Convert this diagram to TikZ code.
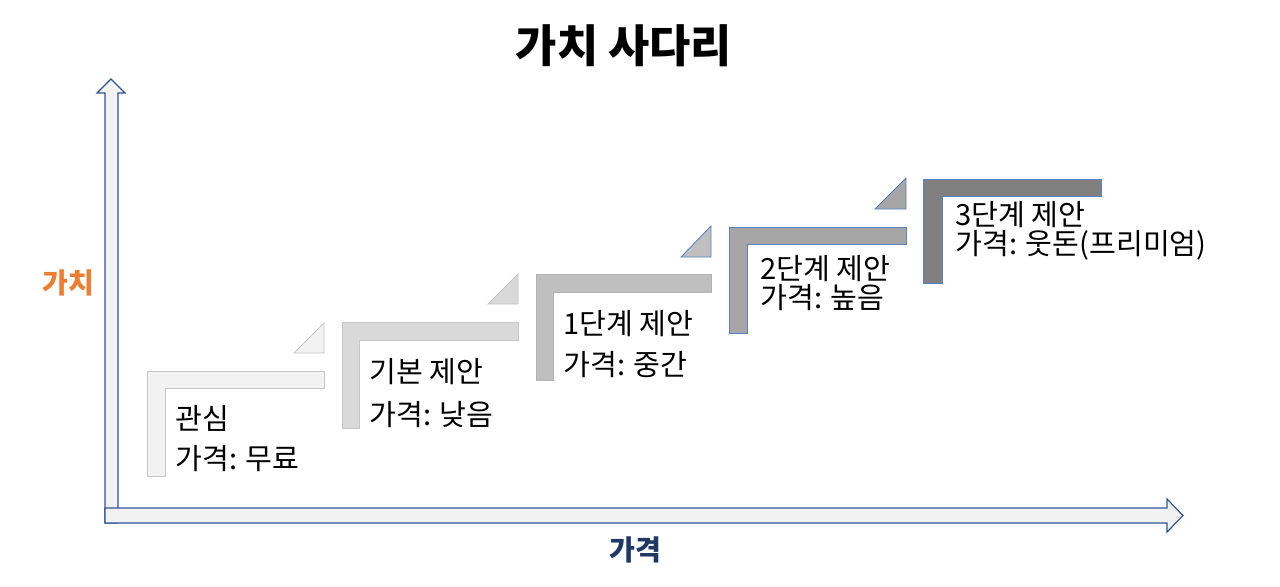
\documentclass[tikz,border=0pt]{standalone}
\usepackage{fontspec}
\setmainfont{Noto Sans CJK KR}
\usepackage{xcolor}
\usepackage{tikz}
\usetikzlibrary{positioning,calc}
\definecolor{axisblue}{HTML}{2F5597}
\definecolor{axisfill}{HTML}{F2F2F2}
\definecolor{edgeblue}{HTML}{5B7FC7}
\definecolor{valorange}{HTML}{ED7D31}
\definecolor{pricenavy}{HTML}{1F3864}
\tikzset{
  axisarrow/.style={draw=axisblue,fill=axisfill,line width=0.7pt,line join=miter},
  stepone/.style={draw=gray!45,fill=black!5,line width=0.5pt},
  steptwo/.style={draw=gray!45,fill=black!15,line width=0.5pt},
  stepthree/.style={draw=black!30,fill=black!25,line width=0.5pt},
  stepfour/.style={draw=edgeblue,fill=black!35,line width=0.5pt},
  stepfive/.style={draw=edgeblue,fill=black!50,line width=0.5pt},
  steptext/.style={anchor=west,inner sep=0pt,font=\fontsize{16.6}{19}\selectfont},
  axislab/.style={inner sep=0pt,font=\bfseries\fontsize{16}{19}\selectfont}
}

\begin{document}
\begin{tikzpicture}[x=0.02cm,y=-0.02cm]
  \useasboundingbox (0,0) rectangle (1280,586);
  % title
  \node[inner sep=0pt,font=\bfseries\fontsize{25.5}{30}\selectfont] (title) at (624,46) {가치 사다리};
  % axes
  \draw[axisarrow] (105,523) -- (105,93) -- (97,93) -- (111,79) -- (125,93) -- (118,93) -- (118,523) -- cycle;
  \draw[axisarrow] (105,508) -- (1167,508) -- (1167,499) -- (1183,515.5) -- (1167,532) -- (1167,523) -- (105,523) -- cycle;
  \node[axislab,text=valorange] (vlab) at (68,283) {가치};
  \node[axislab,text=pricenavy] (plab) at (635,550) {가격};
  % steps of the ladder
  \draw[stepone] (147,371) -- (324,371) -- (324,388) -- (165,388) -- (165,476) -- (147,476) -- cycle;
  \draw[stepone] (294,353) -- (324,353) -- (324,323) -- cycle;
  \draw[steptwo] (342,322) -- (518,322) -- (518,340) -- (359,340) -- (359,428) -- (342,428) -- cycle;
  \draw[steptwo] (488,304) -- (518,304) -- (518,274) -- cycle;
  \draw[stepthree] (536,274) -- (711,274) -- (711,292) -- (553,292) -- (553,380) -- (536,380) -- cycle;
  \draw[stepthree,draw=edgeblue] (681,257) -- (711,257) -- (711,226) -- cycle;
  \draw[stepfour] (729,227) -- (906,227) -- (906,244) -- (747,244) -- (747,333) -- (729,333) -- cycle;
  \draw[stepfour] (875,209) -- (906,209) -- (906,178) -- cycle;
  \draw[stepfive] (923,179) -- (1101,179) -- (1101,196) -- (942,196) -- (942,283) -- (923,283) -- cycle;
  % labels
  \node[steptext] (s1name) at (175,418) {관심};
  \node[steptext] (s1price) at (175,459) {가격: 무료};
  \node[steptext] (s2name) at (369,372) {기본 제안};
  \node[steptext] (s2price) at (369,415) {가격: 낮음};
  \node[steptext] (s3name) at (563,324) {1단계 제안};
  \node[steptext] (s3price) at (563,365) {가격: 중간};
  \node[steptext] (s4name) at (760,269) {2단계 제안};
  \node[steptext] (s4price) at (760,298) {가격: 높음};
  \node[steptext] (s5name) at (955,215) {3단계 제안};
  \node[steptext] (s5price) at (955,245) {가격: 웃돈(프리미엄)};
\end{tikzpicture}
\end{document}
